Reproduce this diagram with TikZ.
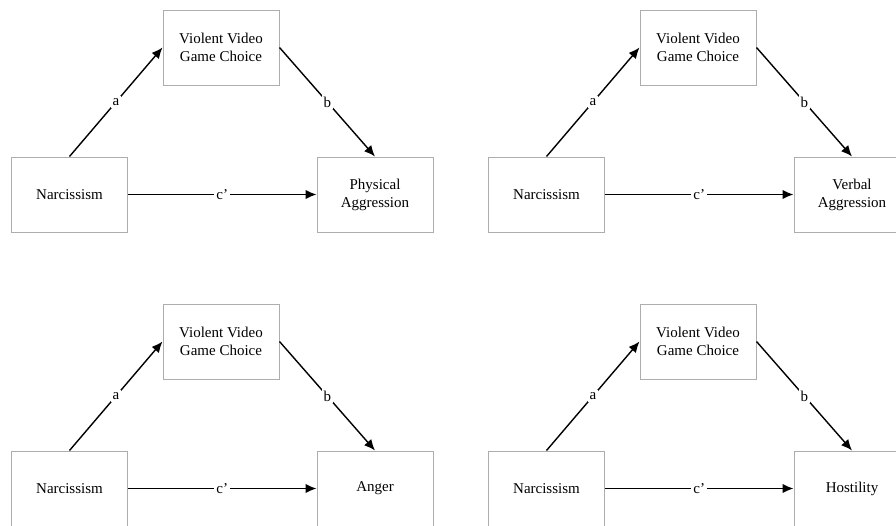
\documentclass[tikz,border=0pt]{standalone}
\usepackage{fontspec}
\setmainfont{Liberation Serif}
\usetikzlibrary{arrows.meta}

\tikzset{
    varbox/.style={draw=black!32, line width=1pt, minimum width=116pt, minimum height=75pt,
        align=center, font=\fontsize{15}{18}\selectfont},
    path/.style={-{Latex[length=11pt,width=9.5pt]}, line width=1.4pt},
    lbl/.style={fill=white, inner sep=2pt, font=\fontsize{15}{18}\selectfont}
}

\begin{document}
\begin{tikzpicture}[x=1pt, y=-1pt]
    \useasboundingbox (0,0) rectangle (896,525);
    \clip (0,0) rectangle (896,525);
    \foreach \dx/\dy/\outtxt/\nm in {0/0/{Physical\\Aggression}/pa, 477/0/{Verbal\\Aggression}/va,
        0/294/{Anger}/an, 477/294/{Hostility}/ho} {
        \node[varbox] (med\nm) at (221+\dx,47.5+\dy) {Violent Video\\Game Choice};
        \node[varbox] (narc\nm) at (69.5+\dx,194.5+\dy) {Narcissism};
        \node[varbox] (out\nm) at (375+\dx,194.5+\dy) {\outtxt};
        \draw[path] (narc\nm.north) -- node[lbl] {a} (med\nm.west);
        \draw[path] (med\nm.east) -- node[lbl] {b} (out\nm.north);
        \draw[path] (narc\nm.east) -- node[lbl] {c\char"0027} (out\nm.west);
    }
\end{tikzpicture}
\end{document}
